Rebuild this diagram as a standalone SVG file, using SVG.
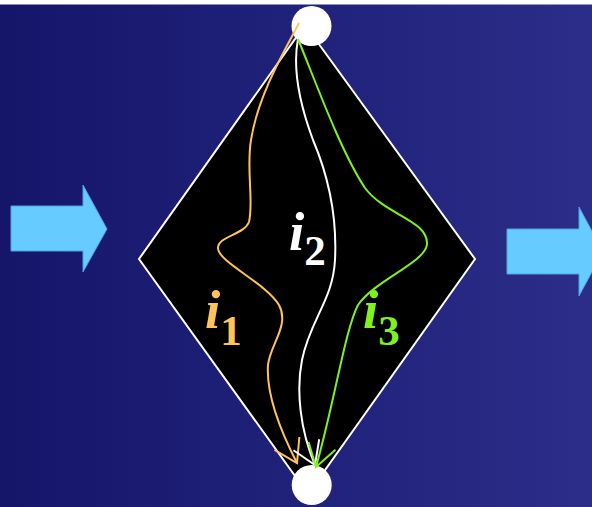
<svg xmlns="http://www.w3.org/2000/svg" width="592" height="507" viewBox="0 0 592 507">
<defs>
<linearGradient id="bg" x1="0" y1="0" x2="1" y2="0">
<stop offset="0" stop-color="#15156a"/>
<stop offset="1" stop-color="#2b2d88"/>
</linearGradient>
<marker id="mo" markerUnits="userSpaceOnUse" orient="auto" markerWidth="40" markerHeight="40" viewBox="-30 -20 40 40" refX="0" refY="0" overflow="visible"><path d="M-22,-14 L0,0 L-22,14" fill="none" stroke="#ffc35c" stroke-width="2"/></marker>
<marker id="mw" markerUnits="userSpaceOnUse" orient="auto" markerWidth="40" markerHeight="40" viewBox="-30 -20 40 40" refX="0" refY="0" overflow="visible"><path d="M-22,-14 L0,0 L-22,14" fill="none" stroke="#ffffff" stroke-width="2"/></marker>
<marker id="mg" markerUnits="userSpaceOnUse" orient="auto" markerWidth="40" markerHeight="40" viewBox="-30 -20 40 40" refX="0" refY="0" overflow="visible"><path d="M-22,-14 L0,0 L-22,14" fill="none" stroke="#80f020" stroke-width="2"/></marker>
</defs>
<style>
.arrow{fill:#66ccff;stroke:#4f9fe0;stroke-width:1}
.path{fill:none;stroke-width:2}
.lbl{font-family:"Liberation Serif","Times New Roman",serif;font-weight:bold;font-style:italic;font-size:55px}
.sub{font-style:normal;font-size:43px}
</style>
<rect x="0" y="0" width="592" height="507" fill="#ffffff"/>
<rect x="0" y="4.5" width="592" height="503" fill="url(#bg)"/>
<g id="arrow-in"><path class="arrow" d="M11,206 H83 V185 L107,229 L83,272 V251 H11 Z"/></g>
<g id="arrow-out"><path class="arrow" d="M507,229 H579 V207 L603,251.5 L579,296 V274 H507 Z"/></g>
<g id="diamond"><polygon points="305,25 475,259 308,494 139,259" fill="#000000" stroke="#ffffff" stroke-width="2"/></g>
<g id="source"><circle cx="311.5" cy="26" r="20" fill="#ffffff"/></g>
<g id="sink"><circle cx="311.7" cy="485" r="20" fill="#ffffff"/></g>
<g id="connectors">
<path class="path" stroke="#ffc35c" marker-end="url(#mo)" d="M299,23 C285,50 258,95 251,140 C246,170 254,200 249,222 C244,235 218,236 218,248 C218,262 266,283 279,305 C290,325 270,345 268,365 C266,395 280,430 297,463"/>
<path class="path" stroke="#ffffff" marker-end="url(#mw)" d="M298,39 C292,70 300,105 313,140 C330,180 337,220 335,260 C333,300 310,320 302,360 C296,390 300,430 315,465"/>
<path class="path" stroke="#80f020" marker-end="url(#mg)" d="M298,39 C315,80 340,150 365,188 C385,215 428,220 427,244 C426,262 375,280 358,305 C345,330 335,400 316,467"/>
</g>
<g id="labels">
<text class="lbl" x="205" y="328" fill="#ffc35c">i<tspan class="sub" dy="17">1</tspan></text>
<text class="lbl" x="289" y="250" fill="#ffffff">i<tspan class="sub" dy="15">2</tspan></text>
<text class="lbl" x="363" y="328" fill="#80f020">i<tspan class="sub" dy="17">3</tspan></text>
</g>
</svg>
